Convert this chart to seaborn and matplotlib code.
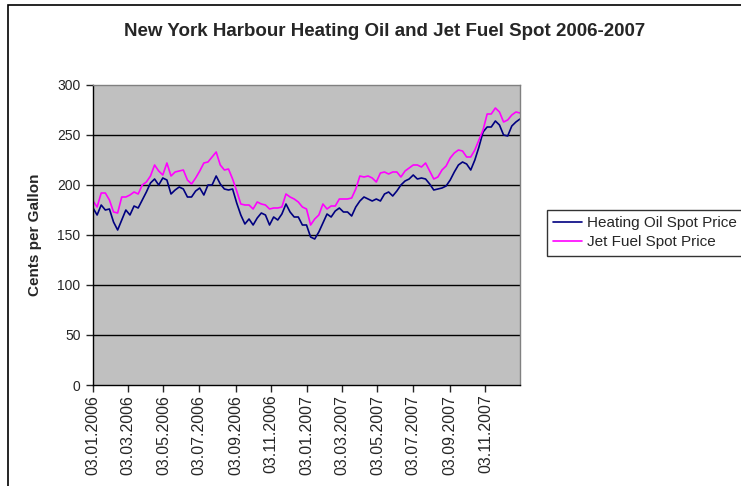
import matplotlib
matplotlib.use("Agg")
import matplotlib.pyplot as plt
import matplotlib.dates as mdates
import matplotlib.patches as mpatches
import numpy as np
import pandas as pd
import seaborn as sns

# weekly readings, cents per gallon
heating_oil = [177, 170, 180, 175, 176, 163, 155, 165, 175, 170,
               179, 177, 185, 193, 202, 206, 200, 207, 205, 191,
               195, 198, 196, 188, 188, 194, 197, 190, 200, 200,
               209, 201, 196, 195, 196, 182, 170, 161, 166, 160,
               167, 172, 170, 160, 168, 165, 171, 181, 173, 168,
               168, 160, 160, 148, 146, 153, 162, 171, 168, 174,
               177, 173, 173, 169, 178, 184, 188, 186, 184, 186,
               184, 191, 193, 189, 194, 200, 204, 206, 210, 206,
               207, 206, 201, 195, 196, 197, 199, 205, 213, 220,
               223, 221, 215, 225, 238, 253, 258, 258, 264, 260,
               250, 249, 259, 263, 266]
jet_fuel = [184, 178, 192, 192, 185, 173, 172, 188, 188, 190,
            193, 191, 200, 203, 209, 220, 214, 210, 222, 209,
            213, 214, 215, 205, 201, 207, 214, 222, 223, 228,
            233, 220, 215, 216, 206, 194, 181, 180, 180, 176,
            183, 181, 180, 176, 177, 177, 178, 191, 188, 186,
            183, 178, 176, 160, 166, 170, 181, 176, 179, 179,
            186, 186, 186, 187, 196, 209, 208, 209, 207, 203,
            212, 213, 211, 213, 213, 208, 214, 217, 220, 220,
            218, 222, 214, 206, 208, 215, 219, 227, 232, 235,
            234, 228, 228, 235, 245, 255, 271, 271, 277, 273,
            263, 265, 270, 273, 272]
dates = pd.date_range("2006-01-03", periods=len(heating_oil), freq="7D")
series_names = ["Heating Oil Spot Price", "Jet Fuel Spot Price"]
tick_dates = pd.to_datetime(["2006-01-03", "2006-03-03", "2006-05-03", "2006-07-03",
                             "2006-09-03", "2006-11-03", "2007-01-03", "2007-03-03",
                             "2007-05-03", "2007-07-03", "2007-09-03", "2007-11-03"])

df = pd.DataFrame({
    "date": np.concatenate([dates, dates]),
    "price": heating_oil + jet_fuel,
    "series": [series_names[0]] * len(dates) + [series_names[1]] * len(dates),
})

sns.set_style("white")
plt.rcParams["font.family"] = ["Liberation Sans", "DejaVu Sans"]

fig = plt.figure(figsize=(7.41, 4.86), dpi=100)
ax = fig.add_axes([93 / 741, 1 - 385 / 486, 427 / 741, 300 / 486])

# outer chart border
fig.patches.append(mpatches.Rectangle((8 / 741, -0.05), 1.2, 1 - 5 / 486 + 0.05,
                                      transform=fig.transFigure, fill=False,
                                      edgecolor="black", linewidth=1.2))

ax.set_facecolor("#C0C0C0")
sns.lineplot(data=df, x="date", y="price", hue="series", ax=ax,
             palette=["#000080", "#FF00FF"], linewidth=1.2, legend=False)

for v in [50, 100, 150, 200, 250]:
    ax.axhline(v, color="black", linewidth=1.0, zorder=0.5)

ax.set_ylim(0, 300)
ax.set_yticks(range(0, 301, 50))
ax.set_xlim(pd.Timestamp("2006-01-03"), pd.Timestamp("2008-01-01"))
ax.set_xticks(tick_dates)
ax.xaxis.set_major_formatter(mdates.DateFormatter("%d.%m.%Y"))
ax.tick_params(axis="x", rotation=90, labelsize=11.5, length=5, width=1,
               direction="out", bottom=True, pad=2)
ax.tick_params(axis="y", labelsize=10, length=5, width=1, direction="out", left=True, pad=4)

for side in ["top", "right"]:
    ax.spines[side].set_color("#808080")
for side in ["left", "bottom"]:
    ax.spines[side].set_color("black")
for s in ax.spines.values():
    s.set_linewidth(1.0)

ax.set_xlabel("")
ax.set_ylabel("Cents per Gallon", fontsize=11, fontweight="bold")
ax.yaxis.set_label_coords((42 - 93) / 427, 0.5)

fig.text(385 / 741, 1 - 31 / 486, "New York Harbour Heating Oil and Jet Fuel Spot 2006-2007",
         ha="center", va="center", fontsize=13.5, fontweight="bold")

handles = [plt.Line2D([], [], color="#000080", linewidth=1.2),
           plt.Line2D([], [], color="#FF00FF", linewidth=1.2)]
leg = fig.legend(handles, series_names, loc="upper left",
                 bbox_to_anchor=(547 / 741, 1 - 210 / 486), fontsize=11,
                 frameon=True, fancybox=False, shadow=False, borderaxespad=0,
                 handlelength=1.9, handletextpad=0.3, borderpad=0.4, labelspacing=0.35)
leg.get_frame().set_edgecolor("black")
leg.get_frame().set_linewidth(1.0)

fig.savefig("out.png", dpi=100)
